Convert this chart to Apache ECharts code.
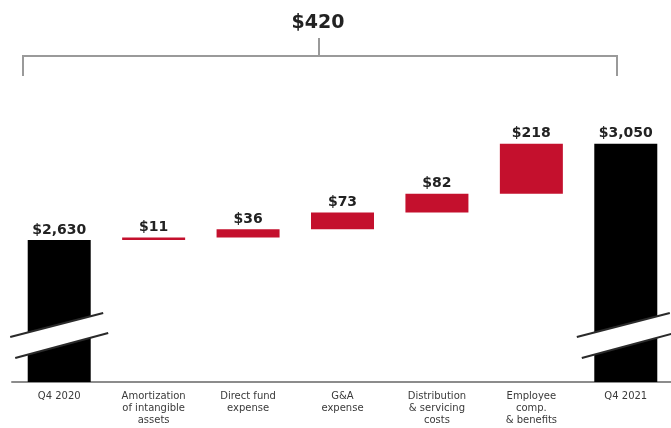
<!DOCTYPE html>
<html>
<head>
<meta charset="utf-8">
<script src="https://cdn.jsdelivr.net/npm/echarts@6/dist/echarts.min.js"></script>
<style>
  html, body { margin: 0; padding: 0; background: #fff; }
  #chart { width: 671px; height: 428px; }
</style>
</head>
<body>
<div id="chart"></div>
<script>
// Quarter-over-quarter bridge, Q4 2020 to Q4 2021 ($ millions)
const categories = [
  'Q4 2020',
  'Amortization\nof intangible\nassets',
  'Direct fund\nexpense',
  'G&A\nexpense',
  'Distribution\n& servicing\ncosts',
  'Employee\ncomp.\n& benefits',
  'Q4 2021'
];
const startTotal = 2630;
const endTotal = 3050;
const increments = [11, 36, 73, 82, 218];
// value at which the truncated total bars get their break marker
const breakValue = 2213;

const fmt = v => '$' + v.toLocaleString('en-US');

// invisible base for the floating steps
const baseData = [0];
let running = startTotal;
increments.forEach(v => { baseData.push(running); running += v; });
baseData.push(0);

const stepData = ['-'].concat(increments, ['-']);
const totalData = [startTotal].concat(increments.map(() => '-'), [endTotal]);
const totalChange = endTotal - startTotal;

const chart = echarts.init(document.getElementById('chart'), null, { renderer: 'canvas' });

const labelStyle = {
  show: true,
  position: 'top',
  distance: 3,
  fontFamily: 'DejaVu Sans',
  fontWeight: 'bold',
  fontSize: 14,
  color: '#222',
  formatter: p => fmt(p.value)
};

chart.setOption({
  animation: false,
  backgroundColor: '#fff',
  grid: { left: 12, right: -2, top: 98, bottom: 46, outerBoundsMode: 'none', containLabel: false },
  xAxis: {
    type: 'category',
    data: categories,
    axisTick: { show: false },
    axisLine: { lineStyle: { color: '#8c8c8c', width: 2 } },
    axisLabel: {
      interval: 0,
      margin: 8,
      fontFamily: 'DejaVu Sans',
      fontSize: 10,
      lineHeight: 12,
      color: '#3a3a3a'
    }
  },
  yAxis: {
    type: 'value',
    min: 2010,
    max: 3250,
    show: false,
    splitLine: { show: false }
  },
  series: [
    {
      name: 'base',
      type: 'bar',
      stack: 'bridge',
      barWidth: 63,
      data: baseData,
      itemStyle: { color: 'transparent' },
      emphasis: { disabled: true },
      silent: true
    },
    {
      name: 'step',
      type: 'bar',
      stack: 'bridge',
      barWidth: 63,
      data: stepData,
      itemStyle: { color: '#c4102d' },
      label: labelStyle
    },
    {
      name: 'total',
      type: 'bar',
      stack: 'bridge',
      barWidth: 63,
      data: totalData,
      itemStyle: { color: '#000' },
      label: labelStyle
    },
    {
      name: 'break',
      type: 'custom',
      clip: false,
      z: 5,
      silent: true,
      data: [[0, breakValue], [categories.length - 1, breakValue]],
      renderItem: (params, api) => {
        const c = api.coord([api.value(0), api.value(1)]);
        const x = c[0], y = c[1];
        const ul = [x - 49, y + 1.5], ur = [x + 44, y - 22.5];
        const ll = [x - 44, y + 22.5], lr = [x + 49, y - 2.5];
        return {
          type: 'group',
          children: [
            { type: 'polygon', shape: { points: [ul, ur, lr, ll] }, style: { fill: '#fff' } },
            { type: 'line', shape: { x1: ul[0], y1: ul[1], x2: ur[0], y2: ur[1] },
              style: { stroke: '#2a2a2a', lineWidth: 2 } },
            { type: 'line', shape: { x1: ll[0], y1: ll[1], x2: lr[0], y2: lr[1] },
              style: { stroke: '#2a2a2a', lineWidth: 2 } }
          ]
        };
      }
    }
  ],
  graphic: [
    {
      type: 'polyline',
      shape: { points: [[23, 76], [23, 56], [617, 56], [617, 76]] },
      style: { stroke: '#9a9a9a', lineWidth: 2, fill: null }
    },
    {
      type: 'line',
      shape: { x1: 319, y1: 38, x2: 319, y2: 56 },
      style: { stroke: '#9a9a9a', lineWidth: 2 }
    },
    {
      type: 'text',
      x: 318,
      y: 23,
      style: {
        text: fmt(totalChange),
        align: 'center',
        verticalAlign: 'middle',
        fontFamily: 'DejaVu Sans',
        fontWeight: 'bold',
        fontSize: 19,
        fill: '#222'
      }
    }
  ]
});
</script>
</body>
</html>
